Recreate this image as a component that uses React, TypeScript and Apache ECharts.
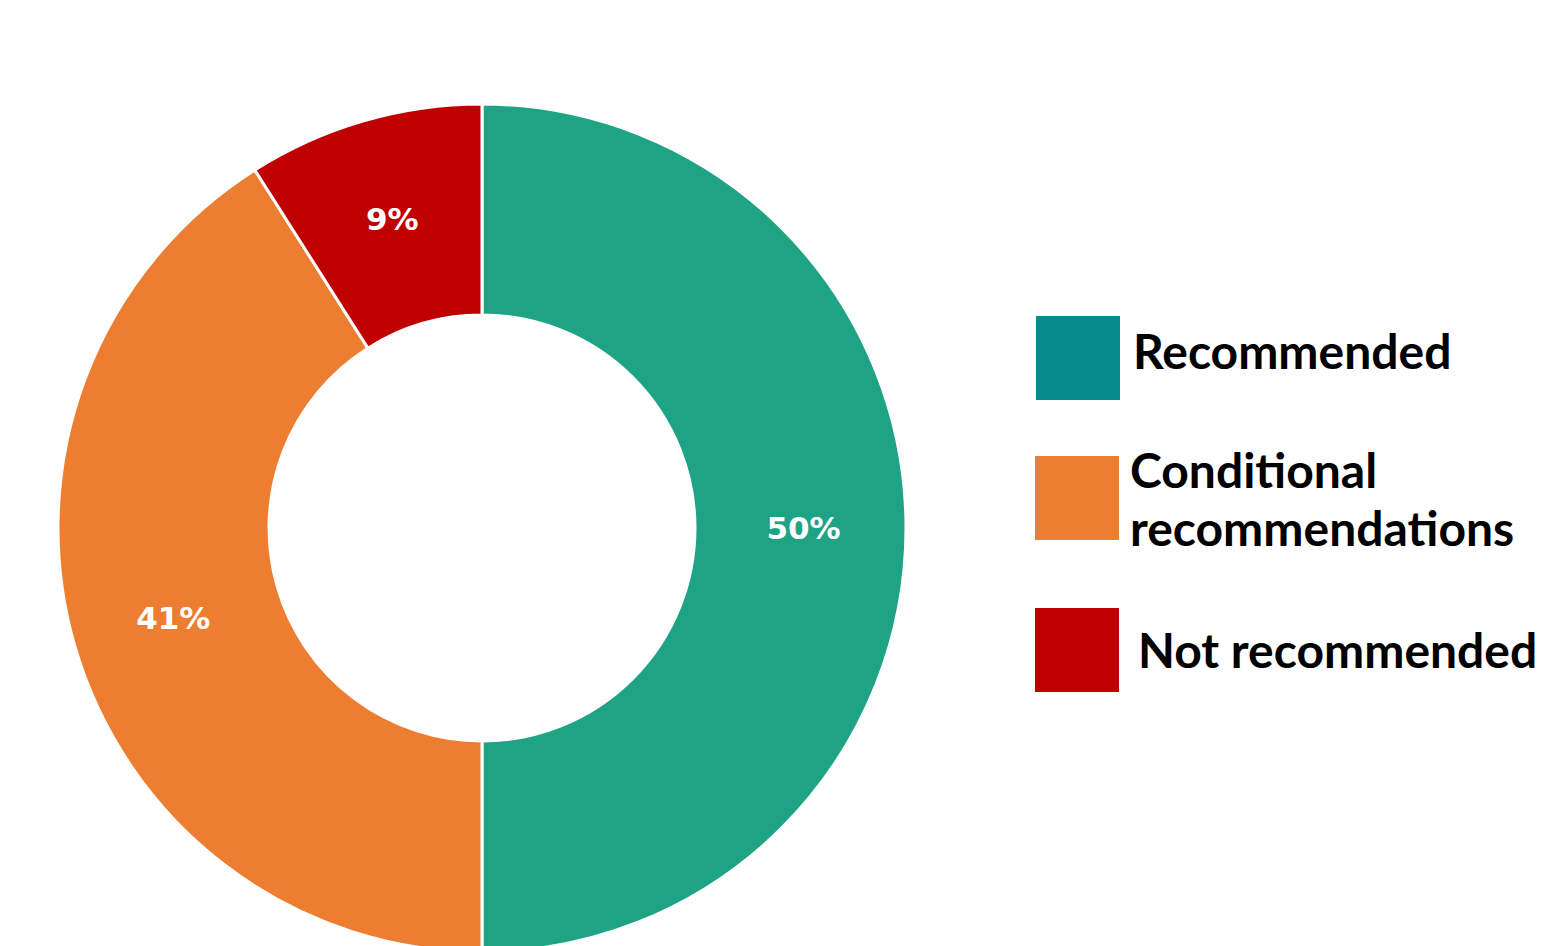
import React, { useEffect, useRef } from "react";
import * as echarts from "echarts";

const categories = ["Recommended", "Conditional recommendations", "Not recommended"];
const values = [50, 41, 9];
const sliceColors = ["#1FA385", "#ED7D31", "#C00000"];
const legendColors = ["#078A8A", "#ED7D31", "#C00000"];
const legendLines = [["Recommended"], ["Conditional", "recommendations"], ["Not recommended"]];

export default function App() {
  const ref = useRef<HTMLDivElement>(null);
  useEffect(() => {
    if (!ref.current) return;
    const chart = echarts.init(ref.current, undefined, { renderer: "svg" });
    const font = "Lato, 'Noto Sans', sans-serif";
    const boxes = [
      { x: 1036, y: 316, tx: 1133, ty: 350 },
      { x: 1035, y: 456, tx: 1130, ty: 469 },
      { x: 1035, y: 608, tx: 1138, ty: 649 },
    ];
    const graphic: any[] = [];
    legendLines.forEach((lines, i) => {
      const b = boxes[i];
      graphic.push({
        type: "rect",
        shape: { x: b.x, y: b.y, width: 84, height: 84 },
        style: { fill: legendColors[i] },
      });
      lines.forEach((t, j) => {
        graphic.push({
          type: "text",
          x: b.tx,
          y: b.ty + j * 58,
          style: {
            text: t,
            fill: "#000",
            font: `bold 48px ${font}`,
            textVerticalAlign: "middle",
            textAlign: "left",
          },
        });
      });
    });
    chart.setOption({
      animation: false,
      backgroundColor: "#fff",
      graphic,
      series: [
        {
          type: "pie",
          center: [482, 528],
          radius: [213, 424],
          startAngle: 90,
          clockwise: true,
          avoidLabelOverlap: false,
          itemStyle: { borderColor: "#fff", borderWidth: 3 },
          label: {
            show: true,
            position: "inside",
            formatter: "{c}%",
            color: "#fff",
            fontFamily: "'DejaVu Sans', sans-serif",
            fontWeight: "bold",
            fontSize: 31,
          },
          labelLine: { show: false },
          emphasis: { disabled: true },
          data: categories.map((name, i) => ({
            name,
            value: values[i],
            itemStyle: { color: sliceColors[i] },
          })),
        },
      ],
    });
    return () => chart.dispose();
  }, []);
  return (
    <div
      ref={ref}
      style={{ position: "absolute", left: 0, top: 0, width: 1544, height: 946 }}
    />
  );
}
